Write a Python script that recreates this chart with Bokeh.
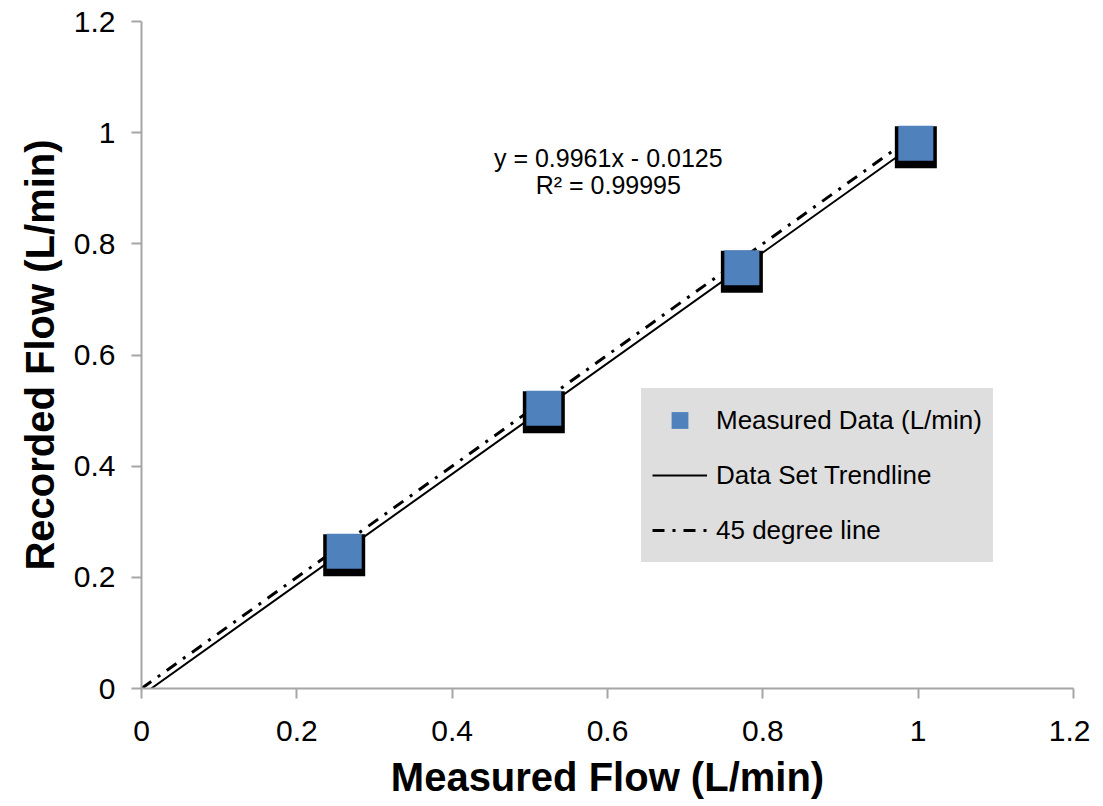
from bokeh.plotting import figure
from bokeh.models import (Range1d, FixedTicker, CustomJSTickFormatter, Legend, LegendItem,
                          Label, ColumnDataSource)
from bokeh.transform import dodge
from bokeh.embed import file_html
from bokeh.resources import INLINE

# ---- data ----
measured = [0.261, 0.518, 0.773, 0.997]
recorded = [0.247, 0.504, 0.757, 0.981]
slope = 0.9961
intercept = -0.0125
r2 = 0.99995
tick_values = [0, 0.2, 0.4, 0.6, 0.8, 1.0, 1.2]
line45_x = [0.0, 1.0]

FONT = "Liberation Sans"

p = figure(width=1090, height=801, output_backend="svg", toolbar_location=None,
           x_range=Range1d(0, 1.2), y_range=Range1d(0, 1.2),
           min_border_left=141, min_border_right=17, min_border_top=21, min_border_bottom=100)
p.outline_line_color = None
p.xgrid.visible = False
p.ygrid.visible = False

src = ColumnDataSource(dict(x=measured, y=recorded))

# trendline and 45 degree line
tx0 = -intercept / slope
tx = [tx0, 1.0]
ty = [slope * v + intercept for v in tx]
trend = p.line(tx, ty, line_color="black", line_width=2)
l45 = p.line(line45_x, line45_x, line_color="black", line_width=3, line_dash="12 8 3 8")

# markers: dark shadow + blue square
p.scatter(x="x", y=dodge("y", -0.0072, range=p.y_range), source=src, marker="square",
          size=42, fill_color="black", line_color=None)
blue = p.scatter(x="x", y="y", source=src, marker="square", size=35,
                 fill_color="#4f81bd", line_color=None)

fmt = CustomJSTickFormatter(code="return String(Math.round(tick*10)/10);")
for ax in (p.xaxis[0], p.yaxis[0]):
    ax.ticker = FixedTicker(ticks=tick_values)
    ax.formatter = fmt
    ax.axis_line_color = "#a6a6a6"
    ax.axis_line_width = 2
    ax.major_tick_line_color = "#a6a6a6"
    ax.major_tick_line_width = 2
    ax.major_tick_out = 10
    ax.major_tick_in = 0
    ax.minor_tick_out = 0
    ax.minor_tick_in = 0
    ax.major_label_text_font = FONT
    ax.major_label_text_font_size = "30px"
    ax.major_label_text_color = "black"
    ax.axis_label_text_font = FONT
    ax.axis_label_text_font_style = "bold"
    ax.axis_label_text_font_size = "40px"
    ax.axis_label_text_color = "black"

p.xaxis.axis_label = "Measured Flow (L/min)"
p.yaxis.axis_label = "Recorded Flow (L/min)"
p.xaxis.major_label_standoff = 22
p.xaxis.axis_label_standoff = 11
p.yaxis.major_label_standoff = 16
p.yaxis.axis_label_standoff = 9

# equation labels
p.add_layout(Label(x=0.601, y=0.955, text=f"y = {slope}x - {abs(intercept)}",
                   text_align="center", text_baseline="middle",
                   text_font=FONT, text_font_size="25px", text_color="black"))
p.add_layout(Label(x=0.601, y=0.905, text=f"R\u00b2 = {r2}",
                   text_align="center", text_baseline="middle",
                   text_font=FONT, text_font_size="25px", text_color="black"))

legend = Legend(items=[
    LegendItem(label="Measured Data (L/min)", renderers=[blue]),
    LegendItem(label="Data Set Trendline", renderers=[trend]),
    LegendItem(label="45 degree line", renderers=[l45]),
], location=(500, 126))
legend.background_fill_color = "#dedede"
legend.background_fill_alpha = 1.0
legend.border_line_color = "#dedede"
legend.border_line_width = 1
legend.glyph_width = 55
legend.glyph_height = 42
legend.spacing = 13
legend.padding = 10
legend.margin = 0
legend.label_standoff = 9
legend.label_text_font = FONT
legend.label_text_font_size = "26px"
legend.label_text_color = "black"
p.add_layout(legend)

open("out.html", "w").write(file_html(p, INLINE))
